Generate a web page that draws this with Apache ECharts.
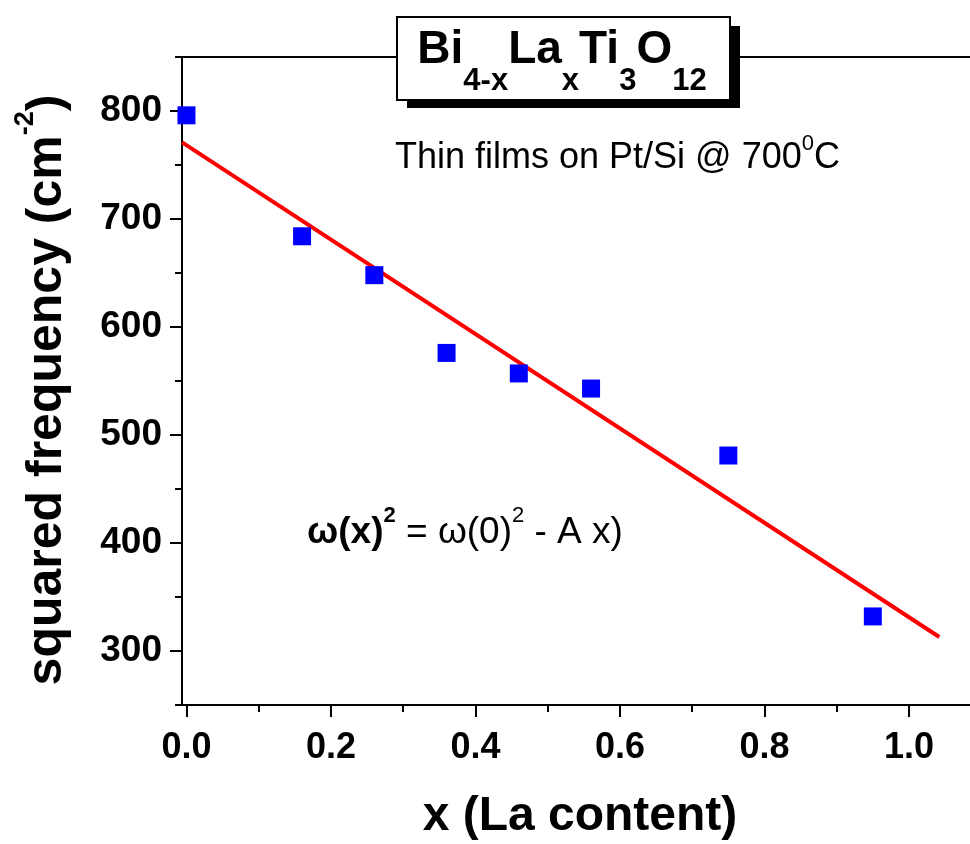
<!DOCTYPE html>
<html>
<head>
<meta charset="utf-8">
<script src="https://cdn.jsdelivr.net/npm/echarts@6/dist/echarts.min.js"></script>
<style>html,body{margin:0;padding:0;background:#fff}#c{width:970px;height:844px}</style>
</head>
<body>
<div id="c"></div>
<script>
// La content (x) and squared frequency (cm^-2)
var xValues = [0.0, 0.16, 0.26, 0.36, 0.46, 0.56, 0.75, 0.95];
var yValues = [796, 684, 648, 576, 557, 543, 481, 332];
// linear fit line endpoints
var fitX = [-0.006, 1.042];
var fitY = [771, 313];
var xMajorTicks = [0.0, 0.2, 0.4, 0.6, 0.8, 1.0];
var xMinorTicks = [0.1, 0.3, 0.5, 0.7, 0.9];
var yMajorTicks = [300, 400, 500, 600, 700, 800];
var yMinorTicks = [250, 350, 450, 550, 650, 750, 850];

var FONT = 'Liberation Sans, Arial, sans-serif';
var chart = echarts.init(document.getElementById('c'), null, {renderer: 'canvas'});

var pts = xValues.map(function (x, i) { return [x, yValues[i]]; });
var fit = fitX.map(function (x, i) { return [x, fitY[i]]; });

var xMin = -0.0062, xMax = 1.0845, yMin = 250, yMax = 850;

function axisBase(isX, extra) {
  var a = {
    type: 'value', min: isX ? xMin : yMin, max: isX ? xMax : yMax,
    position: isX ? 'bottom' : 'left',
    splitLine: {show: false},
    axisLine: {show: false, onZero: false},
    axisTick: {show: false},
    axisLabel: {show: false}
  };
  for (var k in extra) a[k] = extra[k];
  return a;
}
var lineSt = {color: '#000', width: 2};

var option = {
  backgroundColor: '#fff',
  animation: false,
  grid: {left: 182, top: 57, right: 0, bottom: 139, containLabel: false},
  xAxis: [
    axisBase(true, {
      axisLine: {show: true, onZero: false, lineStyle: lineSt},
      axisTick: {show: true, inside: false, length: 12, customValues: xMajorTicks, lineStyle: lineSt},
      axisLabel: {show: true, customValues: xMajorTicks, margin: 25, color: '#000', fontFamily: FONT, fontWeight: 'bold', fontSize: 36,
        formatter: function (v) { return v.toFixed(1); }}
    }),
    axisBase(true, {
      axisTick: {show: true, inside: false, length: 7, customValues: xMinorTicks, lineStyle: lineSt}
    }),
    axisBase(true, {
      position: 'top',
      axisLine: {show: true, onZero: false, lineStyle: lineSt}
    })
  ],
  yAxis: [
    axisBase(false, {
      axisLine: {show: true, onZero: false, lineStyle: lineSt},
      axisTick: {show: true, inside: false, length: 12, customValues: yMajorTicks, lineStyle: lineSt},
      axisLabel: {show: true, customValues: yMajorTicks, margin: 20, color: '#000', fontFamily: FONT, fontWeight: 'bold', fontSize: 37}
    }),
    axisBase(false, {
      axisTick: {show: true, inside: false, length: 7, customValues: yMinorTicks, lineStyle: lineSt}
    })
  ],
  series: [
    {
      type: 'line', xAxisIndex: 0, yAxisIndex: 0, data: fit,
      showSymbol: false, symbol: 'none',
      lineStyle: {color: '#ff0000', width: 4}, z: 2, silent: true
    },
    {
      type: 'scatter', xAxisIndex: 0, yAxisIndex: 0, data: pts,
      symbol: 'rect', symbolSize: 18,
      itemStyle: {color: '#0000ff', opacity: 1}, z: 3, silent: true
    }
  ],
  graphic: [
    // axis titles
    {type: 'text', x: 42, y: 390, rotation: Math.PI / 2, z: 12,
      style: {
        text: '{t|squared frequency (cm}{s|-2}{t|)}',
        align: 'center', verticalAlign: 'middle', fontFamily: FONT,
        rich: {
          t: {fontFamily: FONT, fontWeight: 'bold', fontSize: 50, fill: '#000', lineHeight: 60, verticalAlign: 'bottom'},
          s: {fontFamily: FONT, fontWeight: 'bold', fontSize: 27, fill: '#000', verticalAlign: 'top'}
        }
      }},
    {type: 'text', x: 580, y: 817, z: 12,
      style: {text: 'x (La content)', align: 'center', verticalAlign: 'middle',
        fontFamily: FONT, fontWeight: 'bold', fontSize: 48, fill: '#000'}},
    // formula box
    {type: 'rect', shape: {x: 407, y: 26, width: 333, height: 82}, style: {fill: '#000'}, z: 10},
    {type: 'rect', shape: {x: 397, y: 17, width: 333, height: 83}, style: {fill: '#fff', stroke: '#000', lineWidth: 2}, z: 11},
    {type: 'text', x: 562, y: 27, z: 12,
      style: {
        text: '{m|Bi}{b|4-x}{m|La}{b|x}{m|Ti}{b|3}{m|O}{b|12}',
        align: 'center', verticalAlign: 'top', fontFamily: FONT,
        rich: {
          m: {fontFamily: FONT, fontWeight: 'bold', fontSize: 46, fill: '#000', lineHeight: 70, verticalAlign: 'top'},
          b: {fontFamily: FONT, fontWeight: 'bold', fontSize: 31, fill: '#000', verticalAlign: 'bottom'}
        }
      }},
    {type: 'text', x: 395, y: 133, z: 12,
      style: {
        text: '{n|Thin films on Pt/Si @ 700}{s|0}{n|C}',
        align: 'left', verticalAlign: 'top', fontFamily: FONT,
        rich: {
          n: {fontFamily: FONT, fontSize: 36, fill: '#000', lineHeight: 43, verticalAlign: 'bottom'},
          s: {fontFamily: FONT, fontSize: 22, fill: '#000', verticalAlign: 'top'}
        }
      }},
    {type: 'text', x: 307, y: 505, z: 12,
      style: {
        text: '{b|ω(x)}{bs|2}{n| = ω(0)}{s|2}{n| - A x)}',
        align: 'left', verticalAlign: 'top', fontFamily: FONT,
        rich: {
          b: {fontFamily: FONT, fontWeight: 'bold', fontSize: 37, fill: '#000', lineHeight: 46, verticalAlign: 'bottom'},
          bs: {fontFamily: FONT, fontWeight: 'bold', fontSize: 22, fill: '#000', verticalAlign: 'top'},
          n: {fontFamily: FONT, fontSize: 37, fill: '#000', lineHeight: 46, verticalAlign: 'bottom'},
          s: {fontFamily: FONT, fontSize: 22, fill: '#000', verticalAlign: 'top'}
        }
      }}
  ]
};
chart.setOption(option);
</script>
</body>
</html>
